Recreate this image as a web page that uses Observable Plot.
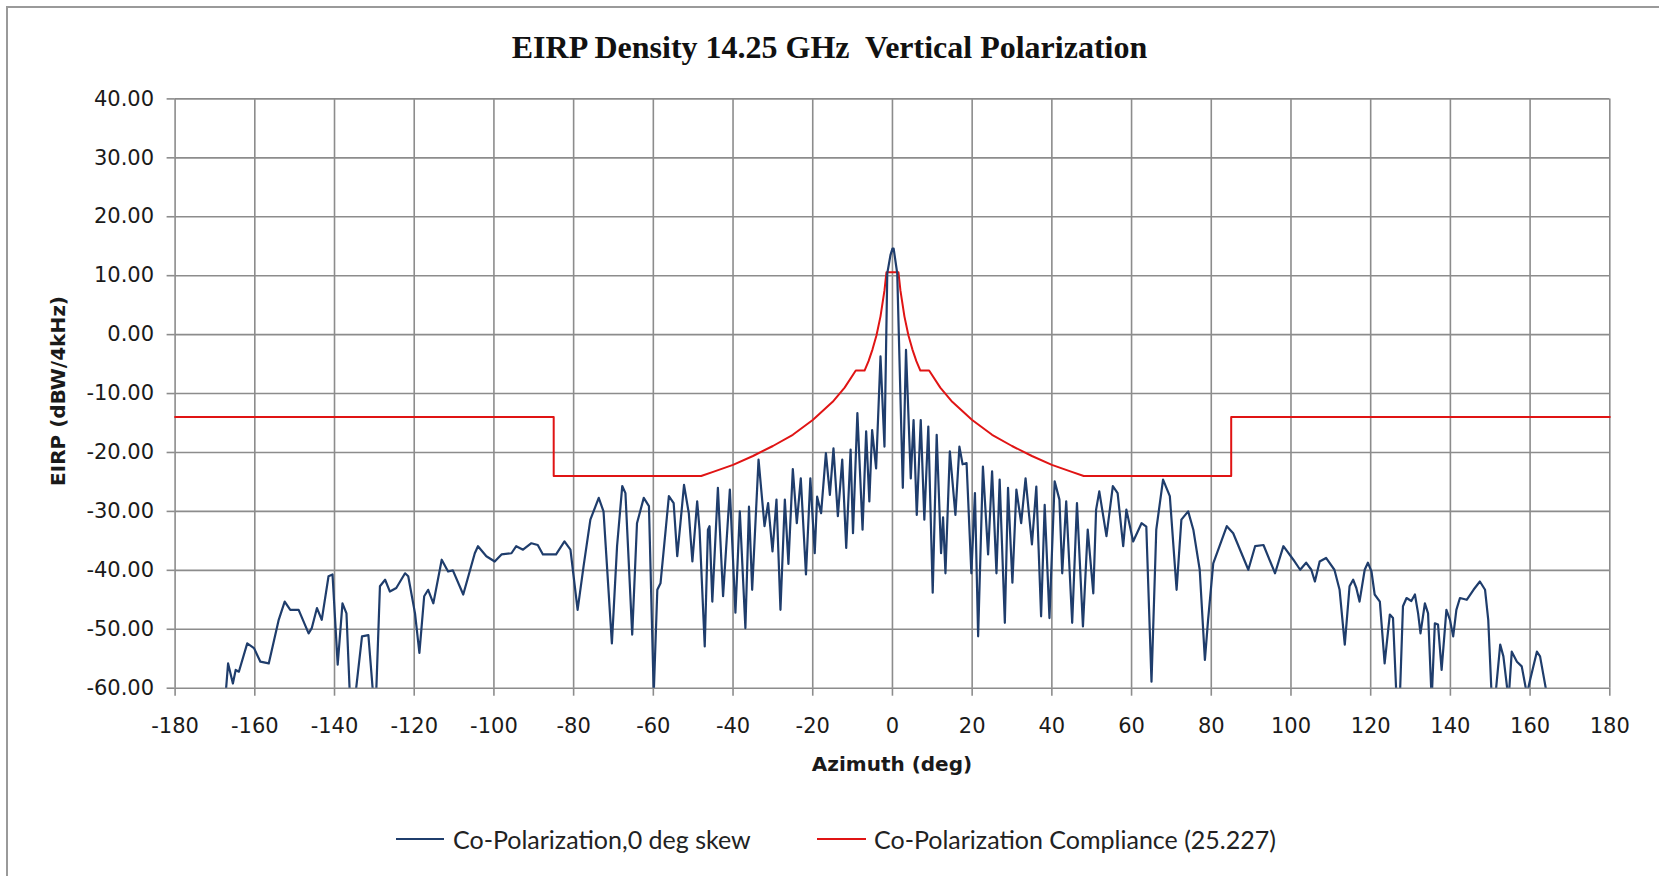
<!DOCTYPE html>
<html>
<head>
<meta charset="utf-8">
<script src="https://cdn.jsdelivr.net/npm/d3@7"></script>
<script src="https://cdn.jsdelivr.net/npm/@observablehq/plot@0.6"></script>
<style>
  html, body { margin: 0; padding: 0; background: #fff; }
  #wrap { position: relative; width: 1659px; height: 876px; overflow: hidden; background: #fff; }
  #title { position: absolute; left: 0; top: 27px; width: 1659px; text-align: center;
           font-family: "Liberation Serif", "Times New Roman", serif; font-weight: bold;
           font-size: 32px; line-height: 40px; color: #111; white-space: pre; }
  #chart { position: absolute; left: 0; top: 0; }
  .bl { position: absolute; left: 6px; top: 6px; width: 2px; height: 870px; background: #9a9a9a; }
  .bt { position: absolute; left: 6px; top: 6px; width: 1653px; height: 2px; background: #9a9a9a; }
  .lg-line { position: absolute; height: 2px; }
  .lg-text { position: absolute; font-family: Lato, "Open Sans", sans-serif; font-size: 25px;
             line-height: 30px; color: #222; white-space: pre; }
</style>
</head>
<body>
<div id="wrap">
  <div class="bl"></div>
  <div class="bt"></div>
  <div id="title">EIRP Density 14.25 GHz  Vertical Polarization</div>
  <div id="chart"></div>
  <div class="lg-line" style="left:396px; top:838px; width:48px; background:#1f3d6c;"></div>
  <div class="lg-text" style="left:453px; top:824px;">Co-Polarization,0 deg skew</div>
  <div class="lg-line" style="left:817px; top:838px; width:49px; background:#e01414;"></div>
  <div class="lg-text" style="left:874px; top:824px;">Co-Polarization Compliance (25.227)</div>
</div>
<script>
// ---- tick labels ----
const xTicks = [-180, -160, -140, -120, -100, -80, -60, -40, -20, 0, 20, 40, 60, 80, 100, 120, 140, 160, 180];
const yTicks = [-60, -50, -40, -30, -20, -10, 0, 10, 20, 30, 40];

// ---- series 1: Co-Polarization, 0 deg skew (azimuth deg, EIRP dBW/4kHz) ----
const copolAz = [
  -167.4, -167.2, -166.7, -165.5, -164.8, -164.0, -161.9, -160.2, -158.6, -156.5,
  -154.0, -152.5, -151.1, -149.0, -146.5, -145.7, -144.4, -143.2, -141.5, -140.5,
  -139.2, -138.0, -137.0, -136.1, -134.9, -133.1, -131.5, -130.2, -129.6, -128.6,
  -127.3, -126.1, -124.5, -122.3, -121.5, -119.8, -118.7, -117.5, -116.5, -115.2,
  -113.1, -111.5, -110.3, -107.7, -104.8, -104.0, -101.9, -99.8, -98.1, -95.6,
  -94.4, -92.7, -90.6, -89.0, -87.7, -84.4, -82.3, -80.8, -79.0, -77.5,
  -75.8, -73.7, -72.5, -70.4, -69.1, -67.8, -67.0, -65.3, -64.1, -62.4,
  -61.1, -59.9, -59.0, -58.2, -56.9, -56.1, -54.9, -54.0, -53.2, -52.3,
  -51.1, -50.2, -49.0, -48.4, -47.1, -46.3, -45.9, -45.2, -43.8, -42.5,
  -40.8, -39.4, -38.3, -36.9, -36.0, -35.2, -33.6, -32.1, -31.2, -30.1,
  -29.1, -28.1, -27.0, -26.1, -25.0, -24.0, -23.0, -21.7, -20.6, -19.5,
  -18.9, -17.9, -16.7, -15.7, -14.8, -13.7, -12.6, -11.6, -10.5, -9.9,
  -8.8, -7.5, -6.6, -5.8, -5.1, -4.1, -3.0, -2.0, -1.3, -0.5,
  0.0, 0.3, 1.2, 2.6, 3.4, 4.6, 5.3, 6.1, 7.1, 8.0,
  9.0, 10.1, 11.1, 12.2, 12.7, 13.3, 14.4, 15.8, 16.8, 17.6,
  18.6, 19.8, 20.7, 21.5, 22.7, 24.0, 25.0, 26.1, 26.9, 28.2,
  29.0, 30.1, 31.1, 32.3, 33.4, 35.0, 36.1, 37.3, 38.2, 39.4,
  40.7, 41.9, 42.6, 43.6, 45.1, 46.3, 47.8, 49.0, 50.4, 51.1,
  51.9, 53.7, 55.3, 56.5, 57.9, 58.7, 60.4, 62.5, 63.7, 65.0,
  66.2, 67.9, 69.6, 71.3, 72.5, 74.2, 75.5, 77.1, 78.4, 79.2,
  80.5, 83.9, 85.5, 89.3, 91.0, 93.1, 96.0, 98.1, 100.6, 102.3,
  103.8, 105.1, 106.0, 107.2, 108.8, 110.9, 112.2, 113.5, 114.7, 115.6,
  116.4, 117.2, 118.5, 119.3, 120.2, 121.0, 122.3, 123.5, 124.8, 125.6,
  126.5, 127.3, 128.1, 129.0, 130.2, 131.1, 131.9, 132.5, 133.6, 134.4,
  135.3, 136.1, 136.9, 137.8, 139.0, 139.9, 140.7, 141.5, 142.4, 144.1,
  145.8, 147.4, 148.7, 149.5, 150.4, 151.2, 152.5, 153.3, 154.6, 155.4,
  156.7, 157.9, 159.2, 160.0, 161.7, 162.5, 164.2
];
const copolVal = [
  -63, -60, -55.8, -59.2, -56.9, -57.2, -52.4, -53.2, -55.5, -55.8,
  -48.4, -45.3, -46.7, -46.7, -50.7, -49.8, -46.4, -48.4, -41.0, -40.7,
  -56.0, -45.6, -47.3, -62, -62, -51.2, -51.0, -62, -62, -42.7,
  -41.6, -43.6, -43.0, -40.5, -41.0, -47.3, -54.0, -44.4, -43.3, -45.6,
  -38.2, -40.2, -40.0, -44.1, -37.1, -35.9, -37.6, -38.5, -37.3, -37.1,
  -35.9, -36.5, -35.4, -35.7, -37.3, -37.3, -35.1, -36.5, -46.7, -39.3,
  -31.4, -27.7, -30.0, -52.4, -35.9, -25.7, -26.9, -50.9, -32.0, -27.7,
  -29.1, -61, -43.3, -42.2, -33.1, -27.4, -28.6, -37.6, -32.0, -25.5,
  -30.3, -38.5, -28.3, -33.1, -52.9, -33.1, -32.5, -45.3, -26.0, -44.4,
  -26.3, -47.2, -30.0, -49.8, -29.2, -43.3, -21.2, -32.5, -28.6, -36.8,
  -28.0, -46.7, -28.0, -38.9, -22.8, -32.0, -24.4, -40.7, -24.4, -37.1,
  -27.5, -30.3, -20.1, -27.2, -19.3, -30.8, -21.2, -36.2, -19.5, -33.7,
  -13.3, -33.1, -16.4, -28.3, -16.2, -22.7, -3.7, -19.0, 10.4, 13.5,
  14.6, 14.6, 10.4, -26.0, -2.6, -24.4, -14.5, -30.6, -14.5, -31.4,
  -15.6, -43.8, -17.0, -37.1, -31.0, -40.5, -19.8, -30.6, -19.0, -22.0,
  -21.8, -40.5, -26.9, -51.2, -22.4, -37.3, -23.2, -40.5, -24.6, -48.9,
  -26.0, -42.1, -26.3, -32.0, -24.4, -35.6, -25.8, -47.8, -28.9, -48.1,
  -24.9, -28.0, -40.5, -28.3, -48.9, -28.6, -49.5, -33.1, -43.9, -29.7,
  -26.6, -34.2, -25.7, -26.9, -35.9, -29.7, -35.1, -32.0, -32.6, -58.9,
  -33.1, -24.6, -27.4, -43.3, -31.4, -30.0, -33.1, -39.9, -55.2, -48.4,
  -38.8, -32.5, -33.7, -39.9, -35.9, -35.7, -40.5, -35.9, -38.2, -39.9,
  -38.7, -39.9, -41.9, -38.5, -37.9, -39.9, -43.3, -52.6, -42.7, -41.6,
  -43.0, -45.3, -39.9, -38.7, -40.2, -44.1, -45.3, -55.8, -47.5, -48.1,
  -62, -62, -46.1, -44.7, -45.2, -44.1, -47.3, -50.7, -45.6, -47.3,
  -62, -49.0, -49.2, -56.9, -46.7, -48.4, -51.2, -46.7, -44.7, -45.0,
  -43.3, -41.9, -43.3, -48.4, -62, -62, -52.6, -54.6, -62, -53.8,
  -55.5, -56.3, -61, -58.6, -53.8, -54.6, -61
];

// ---- series 2: Co-Polarization Compliance (25.227) mask ----
const maskAz = [
  -180, -85, -85, -48, -45, -40, -35, -30, -25, -20, -15, -12, -9.2, -7,
  -6, -5, -4, -3, -2, -1.5, 1.5, 2, 3, 4, 5, 6, 7, 9.2, 12, 15, 20, 25,
  30, 35, 40, 45, 48, 85, 85, 180
];
const maskVal = [
  -14, -14, -24, -24, -23.3, -22.1, -20.6, -18.9, -17.0, -14.5, -11.4, -9.0, -6.1, -6.1,
  -4.5, -2.5, -0.1, 3.1, 7.5, 10.6, 10.6, 7.5, 3.1, -0.1, -2.5, -4.5, -6.1, -6.1, -9.0, -11.4, -14.5, -17.0,
  -18.9, -20.6, -22.1, -23.3, -24, -24, -14, -14
];

const copol = copolAz.map((a, i) => ({az: a, v: copolVal[i]}));
const mask = maskAz.map((a, i) => ({az: a, v: maskVal[i]}));

const W = 1659, H = 800;
const gridColor = "#8c8c8c";

const chart = Plot.plot({
  width: W,
  height: H,
  marginLeft: 174.6,
  marginRight: 49.7,
  marginTop: 98.4,
  marginBottom: H - 687.7,
  style: { fontFamily: "DejaVu Sans, Verdana, sans-serif", fontSize: "21px", color: "#1a1a1a", background: "transparent", overflow: "visible" },
  x: { domain: [-180, 180], label: null },
  y: { domain: [-60, 40], label: null },
  marks: [
    Plot.gridX(xTicks, { stroke: gridColor, strokeOpacity: 1, strokeWidth: 1.6 }),
    Plot.gridY(yTicks, { stroke: gridColor, strokeOpacity: 1, strokeWidth: 1.6 }),
    Plot.axisX(xTicks, { tickSize: 8, tickPadding: 22, stroke: gridColor, strokeWidth: 1.6, fill: "#1a1a1a", label: null, tickFormat: d => d.toFixed(0) }),
    Plot.axisY(yTicks, { tickSize: 8, tickPadding: 13, stroke: gridColor, strokeWidth: 1.6, fill: "#1a1a1a", tickFormat: d => d.toFixed(2), label: null }),
    Plot.line(mask, { x: "az", y: "v", stroke: "#e01414", strokeWidth: 2 }),
    Plot.line(copol, { x: "az", y: "v", stroke: "#1f3d6c", strokeWidth: 2.2, clip: true })
  ]
});

const svg = d3.select(chart);
svg.append("text")
  .attr("x", 892).attr("y", 764).attr("dy", "0.36em")
  .attr("text-anchor", "middle")
  .attr("font-family", "DejaVu Sans, Verdana, sans-serif")
  .attr("font-weight", "bold").attr("font-size", 20).attr("fill", "#1a1a1a")
  .text("Azimuth (deg)");
svg.append("text")
  .attr("transform", "translate(58,391) rotate(-90)")
  .attr("dy", "0.36em")
  .attr("text-anchor", "middle")
  .attr("font-family", "DejaVu Sans, Verdana, sans-serif")
  .attr("font-weight", "bold").attr("font-size", 20).attr("fill", "#1a1a1a")
  .text("EIRP (dBW/4kHz)");

document.getElementById("chart").appendChild(chart);
</script>
</body>
</html>
